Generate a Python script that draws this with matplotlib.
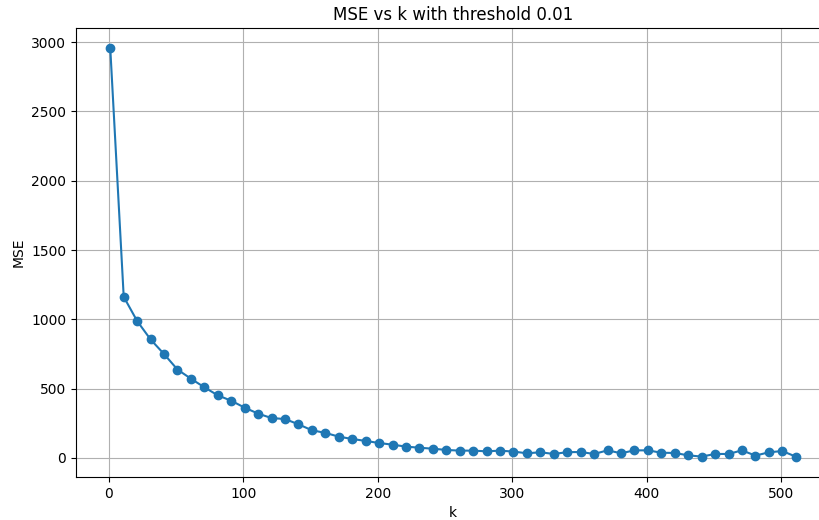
import numpy as np
import matplotlib
matplotlib.use('Agg')
import matplotlib.pyplot as plt

# k values and MSE
k = list(range(1, 512, 10))
mse = [2955, 1163, 988, 855, 750, 638, 572, 510, 452, 413,
       363, 320, 288, 281, 243, 200, 181, 154, 137, 123,
       108, 96, 82, 74, 67, 58, 53, 53, 48, 53,
       46, 34, 41, 29, 42, 43, 29, 55, 34, 55,
       55, 38, 36, 19, 10, 29, 29, 55, 17, 41,
       50, 10]
threshold = 0.01

fig = plt.figure(figsize=(8.2, 5.2), dpi=100)
# the reference is cropped on the right, so the axes run past the figure edge
ax = fig.add_axes([76/820, 43/520, (830-76)/820, (477-28)/520])
ax.plot(k, mse, marker='o')
ax.set_title('MSE vs k with threshold ' + str(threshold))
ax.set_xlabel('k')
ax.set_ylabel('MSE')
ax.grid(True)
fig.savefig('out.png')
